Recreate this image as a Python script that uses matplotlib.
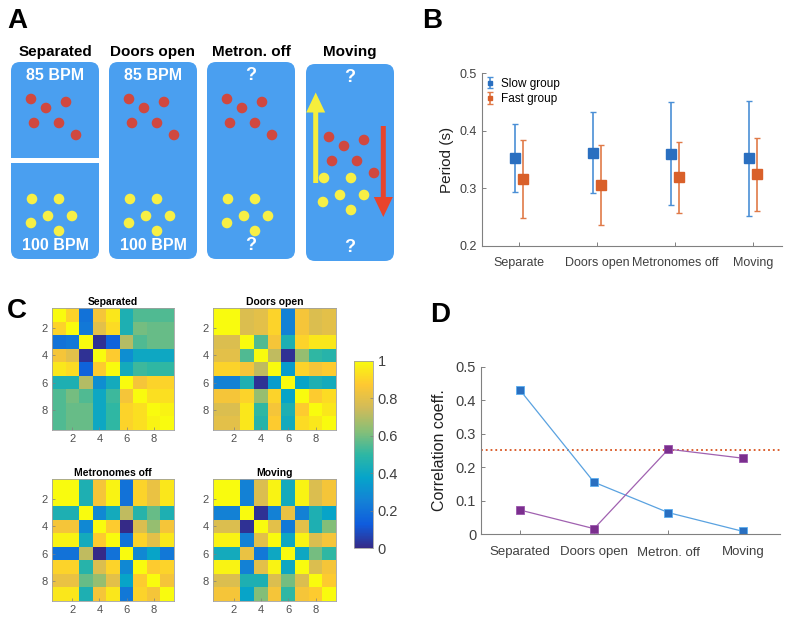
import matplotlib
matplotlib.use('Agg')
import matplotlib.pyplot as plt
import numpy as np
from matplotlib.colors import LinearSegmentedColormap
from matplotlib.patches import FancyBboxPatch, Circle, Rectangle

plt.rcParams['font.family'] = ['Liberation Sans', 'DejaVu Sans']

# ---- data ----
# panel A (schematic)
a_titles = ['Separated', 'Doors open', 'Metron. off', 'Moving']
a_top = ['85 BPM', '85 BPM', '?', '?']
a_bottom = ['100 BPM', '100 BPM', '?', '?']
red_dx = [20, 35, 55, 23, 48, 65]
red_dy = [37, 46, 40, 61, 61, 73]
yel_dx = [21, 48, 37, 61, 20, 48]
yel_dy = [137, 137, 154, 154, 161, 169]

# panel B
cond_b = ['Separate', 'Doors open', 'Metronomes off', 'Moving']
slow_mean = [0.352, 0.362, 0.360, 0.352]
slow_err = [0.059, 0.070, 0.089, 0.100]
fast_mean = [0.316, 0.306, 0.319, 0.324]
fast_err = [0.068, 0.069, 0.061, 0.064]

# panel C (9x9 correlation matrices)
sep_mat = [
    [1.00, 0.90, 0.20, 0.85, 0.95, 0.45, 0.55, 0.55, 0.55],
    [0.90, 1.00, 0.22, 0.80, 0.92, 0.45, 0.60, 0.58, 0.58],
    [0.20, 0.22, 1.00, 0.02, 0.15, 0.70, 0.55, 0.58, 0.58],
    [0.85, 0.80, 0.02, 1.00, 0.88, 0.30, 0.40, 0.40, 0.40],
    [0.95, 0.92, 0.15, 0.88, 1.00, 0.42, 0.52, 0.50, 0.50],
    [0.45, 0.45, 0.70, 0.30, 0.42, 1.00, 0.85, 0.90, 0.90],
    [0.55, 0.60, 0.55, 0.40, 0.52, 0.85, 1.00, 0.93, 0.93],
    [0.55, 0.58, 0.58, 0.40, 0.50, 0.90, 0.93, 1.00, 0.98],
    [0.55, 0.58, 0.58, 0.40, 0.50, 0.90, 0.93, 0.98, 1.00],
]
doors_mat = [
    [1.00, 1.00, 0.78, 0.80, 0.90, 0.25, 0.85, 0.78, 0.80],
    [1.00, 1.00, 0.78, 0.80, 0.90, 0.25, 0.85, 0.78, 0.80],
    [0.78, 0.78, 1.00, 0.55, 0.85, 0.45, 0.90, 0.95, 0.95],
    [0.80, 0.80, 0.55, 1.00, 0.72, 0.02, 0.65, 0.50, 0.48],
    [0.90, 0.90, 0.85, 0.72, 1.00, 0.35, 0.90, 0.85, 0.88],
    [0.25, 0.25, 0.45, 0.02, 0.35, 1.00, 0.38, 0.45, 0.42],
    [0.85, 0.85, 0.90, 0.65, 0.90, 0.38, 1.00, 0.88, 0.92],
    [0.78, 0.78, 0.95, 0.50, 0.85, 0.45, 0.88, 1.00, 0.95],
    [0.80, 0.80, 0.95, 0.48, 0.88, 0.42, 0.92, 0.95, 1.00],
]
metoff_mat = [
    [1.00, 1.00, 0.45, 0.85, 0.98, 0.20, 0.90, 0.82, 0.95],
    [1.00, 1.00, 0.45, 0.85, 0.98, 0.20, 0.90, 0.82, 0.95],
    [0.45, 0.45, 1.00, 0.28, 0.42, 0.72, 0.48, 0.58, 0.45],
    [0.85, 0.85, 0.28, 1.00, 0.88, 0.00, 0.78, 0.65, 0.85],
    [0.98, 0.98, 0.42, 0.88, 1.00, 0.20, 0.90, 0.80, 0.95],
    [0.20, 0.20, 0.72, 0.00, 0.20, 1.00, 0.28, 0.38, 0.22],
    [0.90, 0.90, 0.48, 0.78, 0.90, 0.28, 1.00, 0.88, 0.90],
    [0.82, 0.82, 0.58, 0.65, 0.80, 0.38, 0.88, 1.00, 0.85],
    [0.95, 0.95, 0.45, 0.85, 0.95, 0.22, 0.90, 0.85, 1.00],
]
moving_mat = [
    [1.00, 1.00, 0.25, 0.78, 0.98, 0.42, 0.98, 0.78, 0.85],
    [1.00, 1.00, 0.25, 0.78, 0.98, 0.42, 0.98, 0.78, 0.85],
    [0.25, 0.25, 1.00, 0.02, 0.25, 0.82, 0.25, 0.45, 0.38],
    [0.78, 0.78, 0.02, 1.00, 0.80, 0.22, 0.80, 0.45, 0.62],
    [0.98, 0.98, 0.25, 0.80, 1.00, 0.40, 0.98, 0.78, 0.85],
    [0.42, 0.42, 0.82, 0.22, 0.40, 1.00, 0.40, 0.60, 0.50],
    [0.98, 0.98, 0.25, 0.80, 0.98, 0.40, 1.00, 0.78, 0.85],
    [0.78, 0.78, 0.45, 0.45, 0.78, 0.60, 0.78, 1.00, 0.88],
    [0.85, 0.85, 0.38, 0.62, 0.85, 0.50, 0.85, 0.88, 1.00],
]
mat_titles = ['Separated', 'Doors open', 'Metronomes off', 'Moving']

# panel D
cond_d = ['Separated', 'Doors open', 'Metron. off', 'Moving']
corr_blue = [0.432, 0.155, 0.064, 0.008]
corr_purple = [0.072, 0.016, 0.254, 0.227]
threshold = 0.252

# ---- figure ----
W, H = 786, 620
fig = plt.figure(figsize=(W / 100, H / 100), dpi=100)


def px_axes(x0, y0, x1, y1):
    return fig.add_axes([x0 / W, 1 - y1 / H, (x1 - x0) / W, (y1 - y0) / H])


parula = LinearSegmentedColormap.from_list('parula', [
    '#352a87', '#0f5cdd', '#1481d6', '#06a4ca', '#2eb7a4',
    '#87bf77', '#d1bb59', '#fec832', '#f9fb0e'])

grey_txt = '#404040'

# panel labels
for lab, x, y in [('A', 7, 8), ('B', 422, 8), ('C', 7, 298), ('D', 430, 302)]:
    fig.text(x / W, 1 - y / H, lab, fontsize=20, fontweight='bold', va='top', ha='left')

# ---- panel A ----
axA = px_axes(0, 0, 420, 290)
axA.set_xlim(0, 420)
axA.set_ylim(290, 0)
axA.axis('off')
box_blue = '#4a9ff0'
red_c = '#d0483f'
yel_c = '#f7ef45'
box_x = [11, 109, 207, 306]
for i, x0 in enumerate(box_x):
    y0 = 62 if i < 3 else 64
    axA.add_patch(FancyBboxPatch((x0, y0), 88, 197,
                                 boxstyle='round,pad=0,rounding_size=9',
                                 fc=box_blue, ec='none'))
    axA.text(x0 + 44, 52, a_titles[i], ha='center', va='center',
             fontsize=11, fontweight='bold')
    axA.text(x0 + 44, y0 + 13, a_top[i], ha='center', va='center',
             fontsize=11.5 if i < 2 else 13, fontweight='bold', color='white')
    axA.text(x0 + 44, y0 + 184, a_bottom[i], ha='center', va='center',
             fontsize=11.5 if i < 2 else 13, fontweight='bold', color='white')
    if i < 3:
        rshift, yshift = (0, 0), (0, 0)
    else:
        rshift, yshift = (3, 36), (-3, -23)
    for dx, dy in zip(red_dx, red_dy):
        axA.add_patch(Circle((x0 + dx + rshift[0], y0 + dy + rshift[1]), 5.3,
                             fc=red_c, ec='none'))
    for dx, dy in zip(yel_dx, yel_dy):
        axA.add_patch(Circle((x0 + dx + yshift[0], y0 + dy + yshift[1]), 5.3,
                             fc=yel_c, ec='none'))
# separator in the first box
axA.add_patch(Rectangle((10, 158), 90, 5, fc='white', ec='none'))
# arrows in "Moving"
axA.arrow(315.7, 183, 0, -90.5, width=5, head_width=19, head_length=20,
          length_includes_head=True, fc='#f6ee3c', ec='none')
axA.arrow(383.3, 126, 0, 91, width=5, head_width=19, head_length=20,
          length_includes_head=True, fc='#e8442c', ec='none')

# ---- panel B ----
axB = px_axes(482, 73, 782, 246)
xb = np.arange(1, len(cond_b) + 1)
blue_c = '#2a6fc0'
orange_c = '#d9602a'
axB.errorbar(xb - 0.05, slow_mean, yerr=slow_err, fmt='s', color=blue_c,
             ecolor='#4a8fd6', markersize=6.5, elinewidth=1.2, capsize=2,
             label='Slow group')
axB.errorbar(xb + 0.05, fast_mean, yerr=fast_err, fmt='s', color=orange_c,
             ecolor='#e07a48', markersize=6.5, elinewidth=1.2, capsize=2,
             label='Fast group')
axB.set_xlim(0.53, 4.37)
axB.set_ylim(0.2, 0.5)
axB.set_yticks([0.2, 0.3, 0.4, 0.5])
axB.set_yticklabels(['0.2', '0.3', '0.4', '0.5'])
axB.set_xticks(xb)
axB.set_xticklabels(cond_b)
axB.set_ylabel('Period (s)', fontsize=11, labelpad=4)
axB.legend(loc='upper left', frameon=False, fontsize=8.5, markerscale=0.5,
           handlelength=0.6, handletextpad=0.6, labelspacing=0.3,
           borderaxespad=0.1, borderpad=0.3)

# ---- panel D ----
axD = px_axes(481, 367, 780, 534)
xd = np.arange(1, len(cond_d) + 1)
axD.axhline(threshold, color='#d9531e', linestyle=':', linewidth=1.3)
axD.plot(xd, corr_blue, color='#5aa2e0', linewidth=0.9, marker='s',
         markersize=6, markerfacecolor='#2a6fc0', markeredgecolor='#5aaef0',
         markeredgewidth=0.6)
axD.plot(xd, corr_purple, color='#a061b0', linewidth=0.9, marker='s',
         markersize=6, markerfacecolor='#7b2f8e', markeredgecolor='#9a55ac',
         markeredgewidth=0.6)
axD.set_xlim(0.48, 4.5)
axD.set_ylim(0, 0.5)
axD.set_yticks([0, 0.1, 0.2, 0.3, 0.4, 0.5])
axD.set_yticklabels(['0', '0.1', '0.2', '0.3', '0.4', '0.5'])
axD.set_xticks(xd)
axD.set_xticklabels(cond_d)
axD.set_ylabel('Correlation coeff.', fontsize=11.5, labelpad=6)

for ax, fs, fsy, pd in [(axB, 9, 9, 8), (axD, 9.5, 10.5, 9)]:
    for s in ['top', 'right']:
        ax.spines[s].set_visible(False)
    for s in ['left', 'bottom']:
        ax.spines[s].set_color('#808080')
        ax.spines[s].set_linewidth(0.8)
    ax.tick_params(direction='in', length=3, width=0.7, color='#808080',
                   labelcolor=grey_txt)
    ax.tick_params(axis='x', labelsize=fs, pad=pd)
    ax.tick_params(axis='y', labelsize=fsy)
    ax.yaxis.label.set_color('#202020')

# ---- panel C ----
mats = [sep_mat, doors_mat, metoff_mat, moving_mat]
c_boxes = [(52, 308, 174, 430), (213, 308, 336, 430),
           (52, 479, 174, 601), (213, 479, 336, 601)]
for m, t, b in zip(mats, mat_titles, c_boxes):
    ax = px_axes(*b)
    im = ax.imshow(np.array(m), cmap=parula, vmin=0, vmax=1,
                   extent=(0.5, 9.5, 9.5, 0.5), aspect='auto',
                   interpolation='nearest')
    ax.set_xticks([2, 4, 6, 8])
    ax.set_yticks([2, 4, 6, 8])
    ax.tick_params(direction='in', length=2, width=0.5, color='#808080',
                   labelcolor='#505050', labelsize=8, pad=3)
    for s in ax.spines.values():
        s.set_color('#a0a0a0')
        s.set_linewidth(0.6)
    ax.set_title(t, fontsize=7.5, fontweight='bold', pad=2)

cax = px_axes(354, 361, 373, 548)
cb = fig.colorbar(im, cax=cax, ticks=[0, 0.2, 0.4, 0.6, 0.8, 1])
cb.ax.set_yticklabels(['0', '0.2', '0.4', '0.6', '0.8', '1'])
cb.ax.tick_params(direction='in', length=2, width=0.5, color='#808080',
                  labelsize=10.5, labelcolor=grey_txt)
cb.outline.set_edgecolor('#a0a0a0')
cb.outline.set_linewidth(0.6)

fig.savefig('out.png', dpi=100)
